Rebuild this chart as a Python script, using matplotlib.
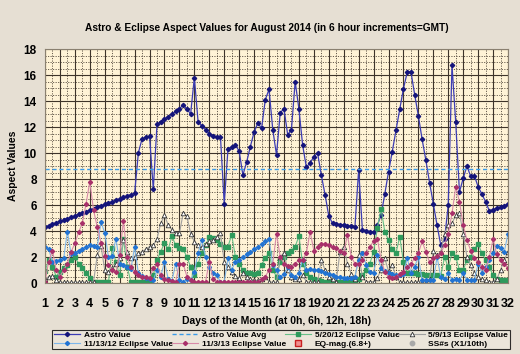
import numpy as np
import matplotlib
matplotlib.use("Agg")
import matplotlib.pyplot as plt
from matplotlib.ticker import MultipleLocator

plt.rcParams['font.family'] = ['Liberation Sans', 'DejaVu Sans']
plt.rcParams['font.weight'] = 'bold'

# 6 hour steps, day 1 0h .. day 32 0h
steps = np.arange(125) / 4.0 + 1

astro = [4.30, 4.41, 4.52, 4.63, 4.74, 4.85, 4.95, 5.06, 5.17, 5.28, 5.39, 5.50,
         5.60, 5.71, 5.82, 5.93, 6.04, 6.15, 6.25, 6.36, 6.47, 6.58, 6.69, 6.80,
         6.90, 10.0, 11.1, 11.2, 11.3, 7.2, 12.2, 12.4, 12.6, 12.8, 13.0, 13.2,
         13.4, 13.7, 13.4, 13.0, 15.8, 12.4, 12.1, 11.8, 11.5, 11.3, 11.2, 11.2,
         6.1, 10.3, 10.45, 10.6, 10.15, 8.3, 9.3, 10.5, 11.6, 12.3, 11.9, 14.1,
         14.9, 11.8, 9.85, 13.1, 13.4, 11.4, 11.8, 15.5, 13.4, 10.6, 8.9, 9.25,
         9.7, 10.0, 8.3, 6.8, 5.15, 4.6, 4.55, 4.5, 4.45, 4.4, 4.35, 4.3,
         8.7, 4.1, 4.0, 3.95, 3.9, 4.45, 5.2, 6.85, 8.55, 10.1, 11.75, 13.35,
         14.95, 16.2, 16.25, 14.5, 12.85, 11.05, 9.45, 7.7, 6.1, 4.45, 2.9, 3.35,
         6.0, 16.75, 12.35, 7.0, 8.05, 9.0, 8.2, 8.25, 7.4, 6.85, 6.25, 5.55,
         5.65, 5.75, 5.85, 5.95, 6.1]
astro_avg = 8.75

ecl_0520 = [0.9, 1.8, 1.25, 0.5, 0.87, 1.13, 1.4, 1.77, 2.0, 1.5, 1.13, 0.75,
            0.4, 0.1, 0.05, 0.05, 0.05, 0.05, 2.7, 1.6, 0.6, 3.4, 1.25, 0.1,
            0.1, 0.05, 0.05, 0.05, 0.05, 0.6, 1.8, 2.4, 3.1, 2.6, 3.6, 2.9,
            2.7, 2.6, 2.0, 1.25, 0.6, 1.5, 2.3, 2.9, 3.55, 3.5, 3.3, 3.0,
            2.8, 2.8, 3.7, 2.0, 1.5, 1.0, 0.8, 0.75, 0.7, 0.75, 1.4, 1.9,
            2.3, 1.0, 0.5, 1.65, 2.0, 2.3, 2.5, 2.8, 3.6, 1.5, 0.8, 0.5,
            0.3, 0.2, 0.15, 0.1, 0.1, 0.1, 0.1, 0.1, 0.1, 0.1, 0.1, 0.2,
            0.3, 0.6, 1.0, 1.5, 2.4, 4.2, 5.7, 3.95, 3.3, 2.6, 2.3, 3.56,
            1.6, 0.8, 0.75, 0.75, 0.7, 0.7, 0.65, 0.65, 0.6, 0.6, 0.55, 2.0,
            1.2, 2.3, 2.0, 1.0, 1.0, 1.77, 2.0, 2.6, 3.0, 2.3, 1.8, 1.2,
            0.6, 0.3, 0.2, 0.2, 0.2]

ecl_0509 = [0.3, 0.5, 0.55, 0.2, 0.05, 0.05, 0.05, 0.05, 0.05, 0.05, 0.05, 0.05,
            0.05, 0.1, 2.15, 2.85, 1.0, 0.87, 1.13, 1.5, 1.9, 3.3, 2.4, 1.9,
            2.0, 2.3, 2.4, 2.6, 2.8, 2.9, 3.4, 4.6, 5.2, 4.46, 4.1, 3.87,
            3.82, 5.36, 5.15, 3.8, 3.18, 2.9, 2.8, 3.0, 3.2, 3.3, 3.56, 3.82,
            1.65, 1.25, 0.87, 0.54, 0.36, 0.75, 0.5, 0.3, 0.2, 0.2, 0.3, 0.5,
            0.1, 0.05, 0.05, 2.0, 2.33, 1.0, 0.5, 0.3, 0.3, 0.6, 0.1, 0.05,
            0.05, 0.05, 1.77, 1.0, 0.5, 0.3, 0.1, 2.4, 2.8, 1.5, 0.7, 0.3,
            2.15, 0.5, 0.1, 0.1, 0.1, 0.4, 1.0, 1.9, 0.9, 1.4, 0.5, 0.05,
            0.05, 0.05, 0.05, 0.05, 0.05, 0.1, 0.1, 0.3, 2.5, 2.15, 2.4, 3.8,
            4.46, 4.6, 5.2, 5.36, 3.8, 2.0, 1.4, 0.75, 0.5, 0.3, 0.2, 0.1,
            0.1, 0.3, 1.0, 1.77, 2.4]

ecl_1113 = [2.8, 2.6, 1.6, 1.7, 1.8, 1.9, 3.95, 2.2, 2.3, 2.5, 2.6, 2.8,
            2.95, 2.85, 2.8, 4.7, 3.85, 2.0, 2.1, 3.4, 1.5, 1.35, 1.2, 1.05,
            2.8, 0.75, 0.55, 0.4, 0.3, 0.2, 1.0, 0.5, 1.65, 0.3, 0.15, 1.5,
            0.2, 0.1, 0.3, 0.2, 0.87, 2.3, 3.3, 2.0, 1.2, 0.8, 0.6, 0.1,
            0.1, 1.9, 1.0, 1.65, 1.8, 2.0, 2.2, 2.4, 2.6, 2.8, 3.0, 3.2,
            3.4, 1.4, 1.0, 0.5, 0.7, 1.2, 0.6, 0.5, 0.8, 1.8, 1.0, 1.1,
            1.0, 1.0, 0.9, 0.8, 0.7, 0.6, 0.5, 0.45, 0.4, 0.35, 0.35, 0.5,
            1.77, 2.3, 1.4, 0.87, 0.8, 2.15, 1.13, 0.9, 0.8, 0.7, 0.6, 0.6,
            0.7, 1.9, 0.8, 1.25, 2.0, 0.2, 0.2, 0.2, 0.2, 2.0, 0.5, 0.3,
            0.8, 0.2, 0.3, 0.2, 0.75, 0.2, 0.2, 0.2, 1.5, 0.8, 1.2, 1.8,
            2.3, 2.85, 2.67, 2.4, 3.8]

ecl_1103 = [0.1, 1.65, 2.5, 1.0, 0.5, 1.0, 1.5, 2.4, 3.05, 3.9, 4.6, 6.1,
            7.8, 5.6, 4.3, 3.1, 2.1, 1.4, 1.0, 0.87, 2.15, 4.8, 2.0, 1.25,
            0.87, 0.6, 0.5, 0.45, 0.4, 1.13, 1.5, 0.6, 0.3, 0.2, 0.15, 0.1,
            1.5, 1.5, 0.5, 0.2, 0.1, 0.1, 0.1, 0.1, 1.65, 0.3, 0.1, 0.1,
            0.1, 0.1, 0.1, 0.1, 0.1, 0.1, 0.1, 0.1, 0.1, 0.1, 0.3, 0.5,
            1.0, 1.5, 3.8, 2.0, 1.5, 1.3, 1.25, 1.5, 1.77, 1.8, 2.3, 3.95,
            2.5, 2.8, 3.0, 3.0, 2.9, 2.8, 2.67, 2.5, 2.3, 3.7, 2.0, 1.5,
            1.5, 1.8, 2.3, 2.8, 3.2, 3.4, 1.8, 0.87, 0.44, 0.36, 0.5, 0.7,
            0.87, 1.2, 1.5, 1.9, 2.3, 3.2, 2.4, 1.6, 1.9, 2.1, 2.3, 2.9,
            3.8, 5.35, 7.4, 6.25, 4.46, 3.3, 2.5, 1.9, 1.6, 1.25, 1.0, 2.0,
            3.36, 2.2, 1.77, 1.5, 1.13]

day_labels = [str(d) for d in range(1, 33)]

fig = plt.figure(figsize=(5.2, 3.54), dpi=100, facecolor='#E6DFD3')
ax = fig.add_axes([45 / 520, 1 - 283 / 354, 463 / 520, 234 / 354])
ax.set_facecolor('#FFF3D6')

ax.set_xlim(1, 32)
ax.set_ylim(0, 18)
ax.xaxis.set_major_locator(MultipleLocator(1))
ax.xaxis.set_minor_locator(MultipleLocator(0.5))
ax.yaxis.set_major_locator(MultipleLocator(2))
ax.yaxis.set_minor_locator(MultipleLocator(0.5))
ax.grid(which='major', color='#3E342A', lw=0.8)
ax.grid(which='minor', color='#3E342A', lw=0.55, linestyle=(0, (1.5, 1.8)))
ax.set_axisbelow(True)
for s in ax.spines.values():
    s.set_color('#8A8070')
ax.tick_params(which='both', length=0)
ax.tick_params(axis='x', pad=11, labelsize=9)
ax.tick_params(axis='y', pad=6, labelsize=8.5)
ax.set_xticks(range(1, 33))
ax.set_xticklabels(day_labels)

l_astro, = ax.plot(steps, astro, color='#3C3CB4', lw=0.9, marker='D', ms=2.2,
                   mfc='#14147A', mec='#14147A', label='Astro Value')
l_avg, = ax.plot([steps[0], steps[-1]], [astro_avg, astro_avg], color='#3A9BE8',
                 lw=1.0, ls=(0, (3, 2)), label='Astro Value Avg')
l_0520, = ax.plot(steps, ecl_0520, color='#66C088', lw=0.8, marker='s', ms=2.5,
                  mfc='#2E9A5C', mec='#2E9A5C', label='5/20/12 Eclipse Value')
l_0509, = ax.plot(steps, ecl_0509, color='#A0A0A0', lw=0.8, marker='^', ms=3.3,
                  mfc='white', mec='#333333', mew=0.6, label='5/9/13 Eclipse Value')
l_1113, = ax.plot(steps, ecl_1113, color='#7DB6EA', lw=0.8, marker='D', ms=2.1,
                  mfc='#2273D2', mec='#2273D2', label='11/13/12 Eclipse Value')
l_1103, = ax.plot(steps, ecl_1103, color='#D88AA8', lw=0.8, marker='D', ms=2.1,
                  mfc='#A8306A', mec='#A8306A', label='11/3/13 Eclipse Value')
l_eq, = ax.plot([], [], ls='none', marker='s', ms=4.5, mfc='#F09090', mec='#C82020',
                label='EQ-mag.(6.8+)')
l_ss, = ax.plot([], [], ls='none', marker='o', ms=3.2, mfc='#A8A8A8', mec='#A8A8A8',
                label='SS#s (X1/10th)')

ax.set_title('Astro & Eclipse Aspect Values for August 2014 (in 6 hour increments=GMT)',
             fontsize=7.3, fontweight='bold', pad=13, x=0.478)
ax.set_ylabel('Aspect Values', fontsize=7.5, fontweight='bold', labelpad=4)
ax.set_xlabel('Days of the Month (at 0h, 6h, 12h, 18h)', fontsize=7.5,
              fontweight='bold', labelpad=4)

handles = [l_astro, l_1113, l_avg, l_1103, l_0520, l_eq, l_0509, l_ss]
leg = fig.legend(handles, [h.get_label() for h in handles], ncol=4,
                 loc='center', bbox_to_anchor=(52 / 520, 1 - 349 / 354, 458 / 520, 19 / 354),
                 mode='expand', fontsize=6, frameon=True, fancybox=False,
                 borderpad=0.2, labelspacing=0.1, handlelength=3.2, handletextpad=0.4,
                 columnspacing=0.8, borderaxespad=0)
leg.get_frame().set_edgecolor('black')
leg.get_frame().set_linewidth(0.8)
leg.get_frame().set_facecolor('#EDE7DC')

fig.savefig('out.png', dpi=100, facecolor=fig.get_facecolor())
